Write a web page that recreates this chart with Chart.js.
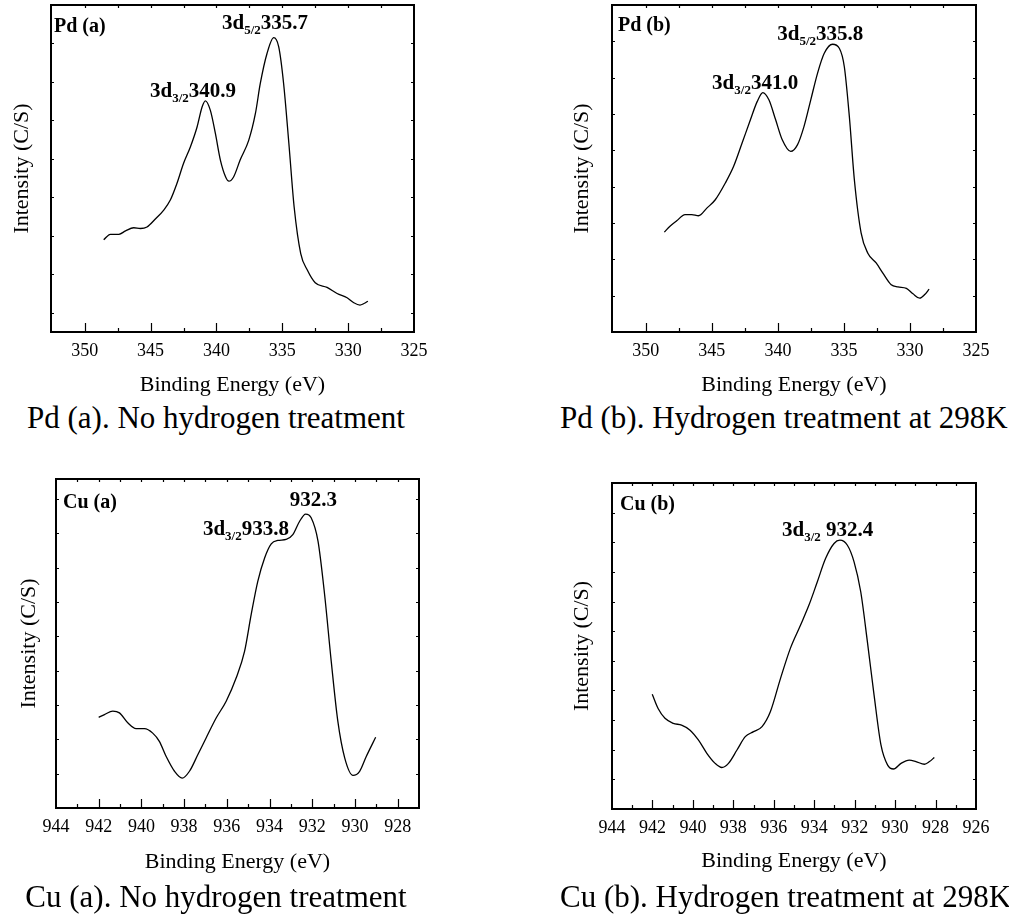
<!DOCTYPE html>
<html lang="en">
<head>
  <meta charset="UTF-8" />
  <title>XPS spectra Pd / Cu</title>
  <script src="https://cdn.jsdelivr.net/npm/chart.js"></script>
  <style>
    body {
      margin: 0;
      background: #fff;
      font-family: "Liberation Serif", "Times New Roman", serif;
    }
    .page {
      position: relative;
      width: 1009px;
      height: 921px;
      overflow: hidden;
    }
    .panel {
      position: absolute;
    }
    .caption {
      position: absolute;
      font-size: 31px;
      line-height: 31px;
      text-align: center;
      color: #000;
      white-space: nowrap;
    }
  </style>
</head>
<body>
  <div class="page">
    <div class="panel" style="left:0;top:0;width:440px;height:400px"><canvas id="pdA"></canvas></div>
    <div class="panel" style="left:560px;top:0;width:440px;height:400px"><canvas id="pdB"></canvas></div>
    <div class="panel" style="left:0;top:455px;width:440px;height:430px"><canvas id="cuA"></canvas></div>
    <div class="panel" style="left:560px;top:455px;width:440px;height:430px"><canvas id="cuB"></canvas></div>

    <div class="caption" style="left:0;top:402px;width:432px">Pd (a). No hydrogen treatment</div>
    <div class="caption" style="left:560px;top:402px;width:436px">Pd (b). Hydrogen treatment at 298K</div>
    <div class="caption" style="left:0;top:881px;width:432px">Cu (a). No hydrogen treatment</div>
    <div class="caption" style="left:560px;top:881px;width:440px">Cu (b). Hydrogen treatment at 298K</div>
  </div>

  <script>
    // Pd 3d, no hydrogen treatment
    const pdAEnergy = [348.56, 348.05, 347.4, 346.9, 346.28, 345.77, 345.27, 344.6, 344.0, 343.5, 343.0, 342.5,
      341.98, 341.47, 341.09, 340.84, 340.46, 340.08, 339.7, 339.3, 339.05, 338.7, 338.2, 337.55, 337.04, 336.67,
      336.16, 335.65, 335.27, 334.9, 334.5, 334.1, 333.6, 333.1, 332.5, 331.6, 330.84, 330.08, 329.57, 329.1, 328.8, 328.5];
    const pdAIntensity = [1.90, 2.04, 2.04, 2.13, 2.21, 2.19, 2.23, 2.45, 2.67, 2.93, 3.36, 3.88,
      4.31, 4.83, 5.35, 5.51, 5.26, 4.66, 3.97, 3.53, 3.42, 3.53, 3.97, 4.48, 5.18, 5.96,
      6.74, 7.15, 6.91, 5.96, 4.40, 2.75, 1.54, 1.11, 0.78, 0.66, 0.50, 0.39, 0.26, 0.20, 0.24, 0.30];

    // Pd 3d, hydrogen treatment at 298K
    const pdBEnergy = [348.6, 348.17, 347.66, 347.03, 346.52, 346.01, 345.38, 344.74, 343.98, 343.35, 342.71, 342.08,
      341.57, 341.14, 340.68, 340.17, 339.67, 339.03, 338.52, 338.02, 337.51, 337.0, 336.49, 335.86, 335.35, 334.97,
      334.59, 334.21, 333.7, 333.19, 332.56, 332.05, 331.42, 330.91, 330.27, 329.77, 329.26, 328.88, 328.55];
    const pdBIntensity = [2.75, 2.91, 3.06, 3.23, 3.23, 3.20, 3.41, 3.64, 4.10, 4.56, 5.20, 5.84,
      6.34, 6.59, 6.39, 5.84, 5.29, 4.97, 5.15, 5.66, 6.39, 7.12, 7.67, 7.92, 7.81, 7.30,
      5.93, 4.19, 2.73, 2.17, 1.90, 1.62, 1.30, 1.24, 1.20, 1.05, 0.93, 1.03, 1.18];

    // Cu 2p, no hydrogen treatment
    const cuAEnergy = [942.0, 941.73, 941.34, 941.03, 940.64, 940.25, 939.86, 939.47, 939.16, 938.84, 938.45, 938.09,
      937.75, 937.36, 936.97, 936.5, 936.03, 935.56, 935.17, 934.86, 934.55, 934.23, 933.92, 933.61, 933.22,
      932.91, 932.59, 932.31, 932.05, 931.73, 931.42, 931.11, 930.8, 930.48, 930.09, 929.78, 929.47, 929.03];
    const cuAIntensity = [2.64, 2.72, 2.82, 2.77, 2.48, 2.31, 2.31, 2.18, 1.94, 1.50, 1.07, 0.87,
      1.07, 1.55, 2.04, 2.62, 3.11, 3.79, 4.56, 5.63, 6.60, 7.28, 7.69, 7.79, 7.82,
      7.96, 8.35, 8.56, 8.45, 7.77, 6.21, 4.27, 2.52, 1.46, 0.95, 1.07, 1.50, 2.06];

    // Cu 2p, hydrogen treatment at 298K
    const cuBEnergy = [942.01, 941.72, 941.38, 940.97, 940.56, 940.14, 939.73, 939.31, 938.9, 938.57, 938.24, 937.82,
      937.41, 937.0, 936.58, 936.17, 935.67, 935.18, 934.68, 934.26, 933.85, 933.44, 933.02, 932.73, 932.36,
      932.03, 931.7, 931.37, 931.04, 930.7, 930.37, 930.08, 929.71, 929.3, 928.97, 928.55, 928.3, 928.06];
    const cuBIntensity = [3.87, 3.39, 3.06, 2.89, 2.83, 2.66, 2.33, 1.88, 1.54, 1.40, 1.54, 1.99,
      2.44, 2.61, 2.78, 3.28, 4.40, 5.42, 6.20, 6.88, 7.66, 8.45, 8.96, 9.07, 8.90,
      8.34, 7.33, 5.64, 3.84, 2.16, 1.48, 1.35, 1.54, 1.65, 1.60, 1.51, 1.60, 1.74];

    // peak labels: [energy, intensity] of the text's left baseline, then text parts
    const pdALabels = [
      { e: 345.04, i: 5.60, main: "3d", sub: "3/2", value: "340.9" },
      { e: 339.58, i: 7.37, main: "3d", sub: "5/2", value: "335.7" }
    ];
    const pdBLabels = [
      { e: 344.98, i: 6.69, main: "3d", sub: "3/2", value: "341.0" },
      { e: 340.05, i: 8.04, main: "3d", sub: "5/2", value: "335.8" }
    ];
    const cuALabels = [
      { e: 933.05, i: 8.78, main: "", sub: "", value: "932.3" },
      { e: 937.12, i: 7.96, main: "3d", sub: "3/2", value: "933.8" }
    ];
    const cuBLabels = [
      { e: 935.59, i: 9.22, main: "3d", sub: "3/2", value: " 932.4" }
    ];

    const SERIF = '"Liberation Serif", "Times New Roman", serif';

    const isMultiple = (v, m) => Math.abs(v / m - Math.round(v / m)) < 1e-6;

    // box, inward tick marks and text inside the plot
    const decor = {
      id: "decor",
      afterDatasetsDraw(chart, args, opts) {
        const { ctx, chartArea: a, scales: { x, y } } = chart;
        ctx.save();
        ctx.strokeStyle = "#000";
        ctx.lineWidth = 1.2;
        ctx.beginPath();
        x.ticks.forEach(t => {
          const px = Math.round(x.getPixelForValue(t.value)) + 0.5;
          if (px <= a.left + 2 || px >= a.right - 2) return;
          const len = isMultiple(t.value, opts.labelStep) ? 9 : 4;
          ctx.moveTo(px, a.bottom);
          ctx.lineTo(px, a.bottom - len);
          ctx.moveTo(px, a.top);
          ctx.lineTo(px, a.top + 3);
        });
        y.ticks.forEach(t => {
          const py = Math.round(y.getPixelForValue(t.value)) + 0.5;
          if (py <= a.top + 2 || py >= a.bottom - 2) return;
          ctx.moveTo(a.left, py);
          ctx.lineTo(a.left + 3, py);
          ctx.moveTo(a.right, py);
          ctx.lineTo(a.right - 3, py);
        });
        ctx.stroke();

        ctx.lineWidth = 2;
        ctx.strokeRect(a.left, a.top, a.right - a.left, a.bottom - a.top);

        ctx.fillStyle = "#000";
        ctx.textBaseline = "alphabetic";
        ctx.textAlign = "left";
        ctx.font = "bold 20px " + SERIF;
        ctx.fillText(opts.name, a.left + opts.nameDx, a.top + opts.nameDy);

        opts.labels.forEach(l => {
          let px = x.getPixelForValue(l.e);
          const py = y.getPixelForValue(l.i);
          ctx.font = "bold 21px " + SERIF;
          if (l.main) {
            ctx.fillText(l.main, px, py);
            px += ctx.measureText(l.main).width;
          }
          if (l.sub) {
            ctx.font = "bold 13px " + SERIF;
            ctx.fillText(l.sub, px, py + 5);
            px += ctx.measureText(l.sub).width;
          }
          ctx.font = "bold 21px " + SERIF;
          ctx.fillText(l.value, px, py);
        });
        ctx.restore();
      }
    };

    function makePanel(id, p) {
      const ctx = document.getElementById(id).getContext("2d");
      return new Chart(ctx, {
        type: "line",
        data: {
          datasets: [{
            data: p.energy.map((e, k) => ({ x: e, y: p.intensity[k] })),
            borderColor: "#000",
            borderWidth: 1.3,
            pointRadius: 0,
            fill: false,
            cubicInterpolationMode: "monotone"
          }]
        },
        options: {
          responsive: true,
          maintainAspectRatio: false,
          animation: false,
          events: [],
          layout: { padding: { left: 0, right: p.padRight, top: p.padTop, bottom: 0 } },
          plugins: {
            legend: { display: false },
            tooltip: { enabled: false },
            decor: { name: p.name, nameDx: p.nameDx, nameDy: p.nameDy, labels: p.labels, labelStep: p.labelStep }
          },
          scales: {
            x: {
              type: "linear",
              reverse: true,
              min: p.xMin,
              max: p.xMax,
              grid: { display: false, drawTicks: false },
              border: { display: false },
              ticks: {
                stepSize: p.xStep,
                autoSkip: false,
                maxRotation: 0,
                padding: 8,
                color: "#000",
                font: { family: SERIF, size: 18 },
                callback: v => isMultiple(v, p.labelStep) ? String(Math.round(v)) : ""
              },
              title: {
                display: true,
                text: "Binding Energy (eV)",
                color: "#000",
                font: { family: SERIF, size: 22 },
                padding: { top: 0, bottom: p.xTitlePad }
              },
              afterFit: s => { s.height = p.xAxisHeight; }
            },
            y: {
              type: "linear",
              min: p.yMin,
              max: p.yMax,
              grid: { display: false, drawTicks: false },
              border: { display: false },
              ticks: { display: false, stepSize: 1 },
              title: {
                display: true,
                text: "Intensity (C/S)",
                color: "#000",
                font: { family: SERIF, size: 22 },
                padding: { top: p.yTitlePad, bottom: 0 }
              },
              afterFit: s => { s.width = p.yAxisWidth; }
            }
          }
        },
        plugins: [decor]
      });
    }

    makePanel("pdA", {
      energy: pdAEnergy, intensity: pdAIntensity, labels: pdALabels, name: "Pd (a)",
      xMin: 325, xMax: 352.56, xStep: 2.5, labelStep: 5, yMin: -0.5, yMax: 8,
      padTop: 5, padRight: 26, yAxisWidth: 51, xAxisHeight: 68,
      yTitlePad: 9, xTitlePad: 2, nameDx: 3, nameDy: 27
    });
    makePanel("pdB", {
      energy: pdBEnergy, intensity: pdBIntensity, labels: pdBLabels, name: "Pd (b)",
      xMin: 325, xMax: 352.56, xStep: 2.5, labelStep: 5, yMin: 0, yMax: 9,
      padTop: 5, padRight: 24, yAxisWidth: 52, xAxisHeight: 68,
      yTitlePad: 9, xTitlePad: 2, nameDx: 6, nameDy: 26
    });
    makePanel("cuA", {
      energy: cuAEnergy, intensity: cuAIntensity, labels: cuALabels, name: "Cu (a)",
      xMin: 927, xMax: 944, xStep: 1, labelStep: 2, yMin: 0, yMax: 9.58,
      padTop: 24, padRight: 21, yAxisWidth: 56, xAxisHeight: 77,
      yTitlePad: 16, xTitlePad: 10, nameDx: 7, nameDy: 29
    });
    makePanel("cuB", {
      energy: cuBEnergy, intensity: cuBIntensity, labels: cuBLabels, name: "Cu (b)",
      xMin: 926, xMax: 944, xStep: 1, labelStep: 2, yMin: 0, yMax: 11,
      padTop: 28, padRight: 24, yAxisWidth: 52, xAxisHeight: 76,
      yTitlePad: 9, xTitlePad: 11, nameDx: 8, nameDy: 27
    });
  </script>
</body>
</html>
